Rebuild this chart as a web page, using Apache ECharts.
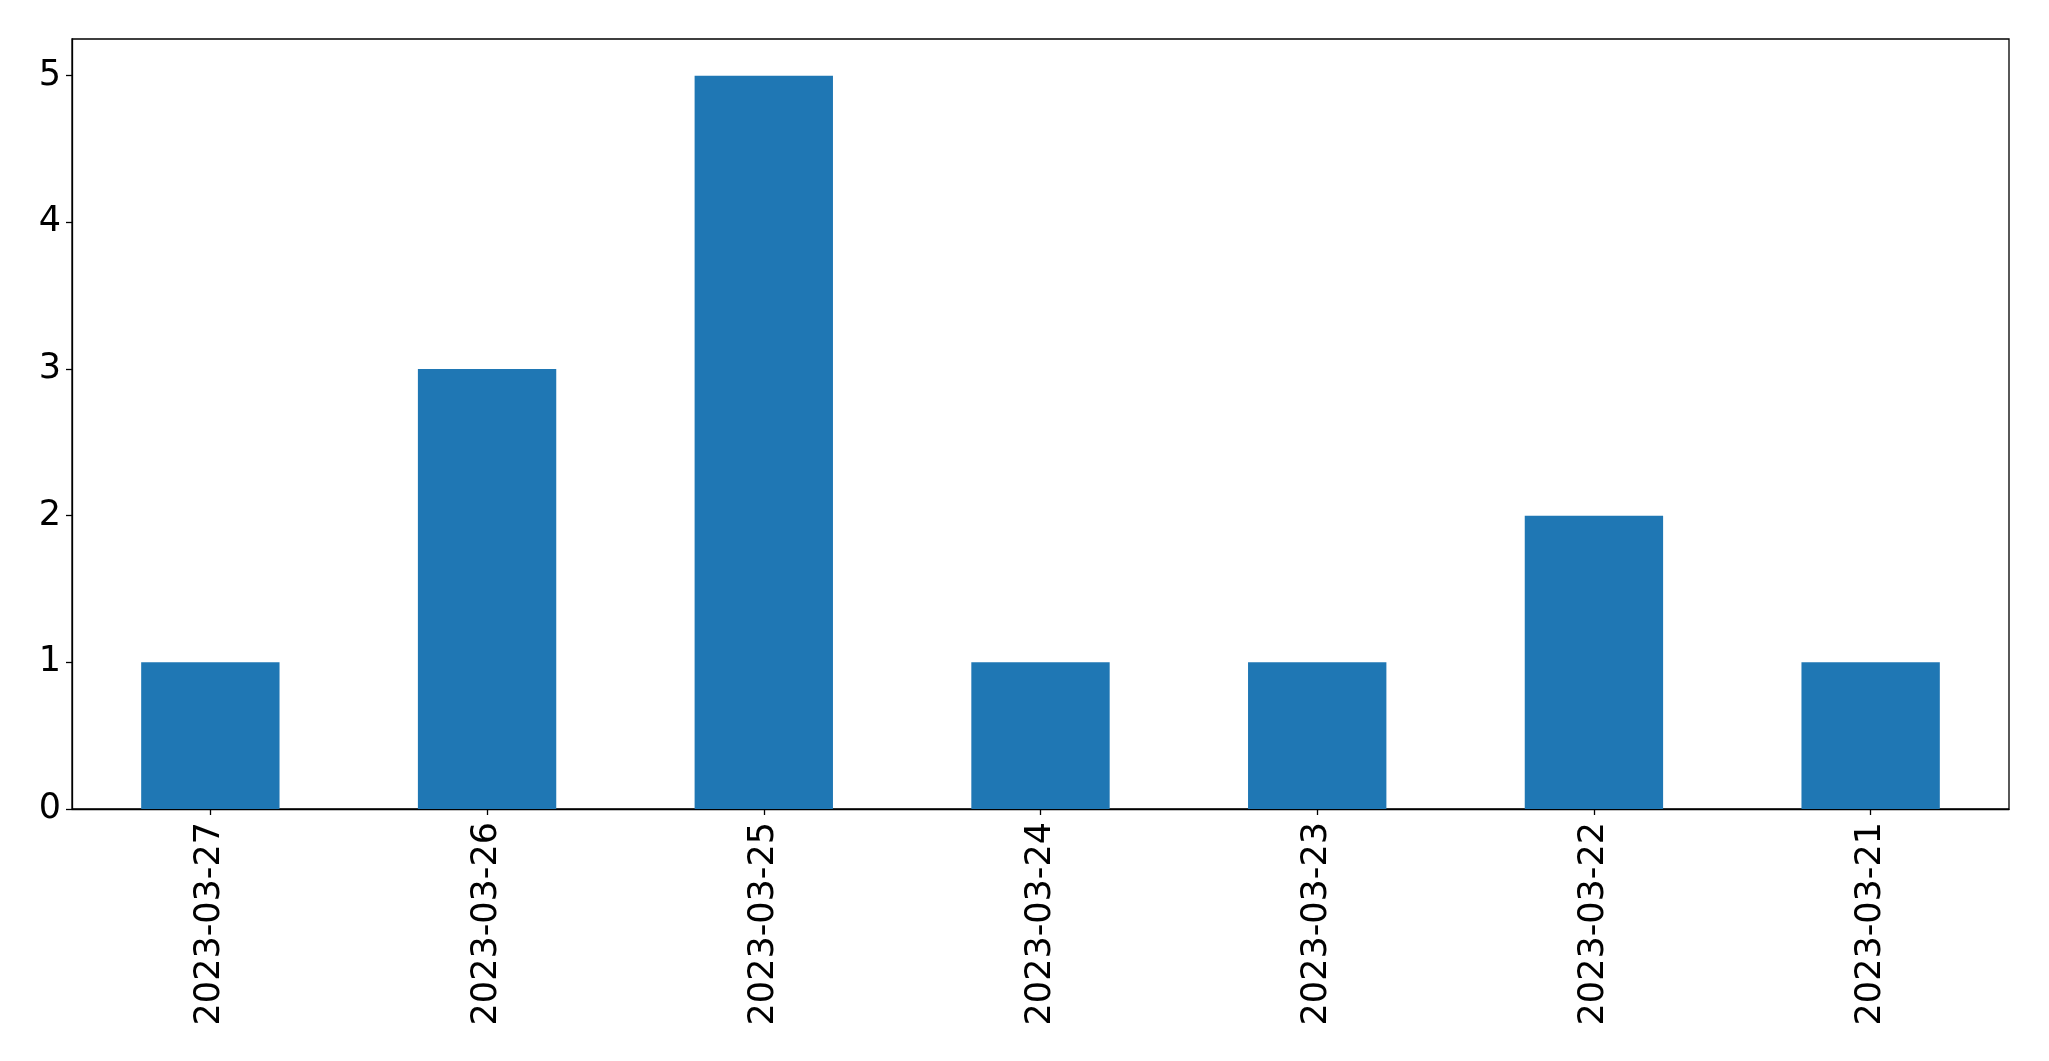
<!DOCTYPE html>
<html>
<head>
<meta charset="utf-8">
<script src="https://cdn.jsdelivr.net/npm/echarts@6/dist/echarts.min.js"></script>
<style>
html,body{margin:0;padding:0;background:#fff;}
#c{width:2049px;height:1061px;}
</style>
</head>
<body>
<div id="c"></div>
<script>
const categories = ["2023-03-27","2023-03-26","2023-03-25","2023-03-24","2023-03-23","2023-03-22","2023-03-21"];
const values = [1,3,5,1,1,2,1];
const yTicks = [0,1,2,3,4,5];

const chart = echarts.init(document.getElementById('c'), null, {renderer:'canvas'});
const font = 'DejaVu Sans';
chart.setOption({
  animation:false,
  backgroundColor:'#fff',
  grid:{left:72, top:39, width:1937, height:770, show:true, borderColor:'#000', borderWidth:1.3, containLabel:false},
  xAxis:{
    type:'category', data:categories, boundaryGap:true,
    axisLine:{show:true, lineStyle:{color:'#000', width:1.3}},
    axisTick:{show:true, alignWithLabel:true, length:6, lineStyle:{color:'#000', width:1.3}},
    axisLabel:{rotate:90, margin:13, color:'#000', fontFamily:font, fontSize:35, interval:0},
    splitLine:{show:false}
  },
  yAxis:{
    type:'value', min:0, max:5.25, interval:1,
    axisLine:{show:true, lineStyle:{color:'#000', width:1.3}},
    axisTick:{show:true, length:6, lineStyle:{color:'#000', width:1.3}},
    axisLabel:{margin:11, color:'#000', fontFamily:font, fontSize:35, showMaxLabel:false,
      formatter:v => yTicks.includes(v) ? String(v) : ''},
    splitLine:{show:false}
  },
  series:[{type:'bar', data:values, barWidth:'50%', itemStyle:{color:'#1f77b4'}}]
});
</script>
</body>
</html>
